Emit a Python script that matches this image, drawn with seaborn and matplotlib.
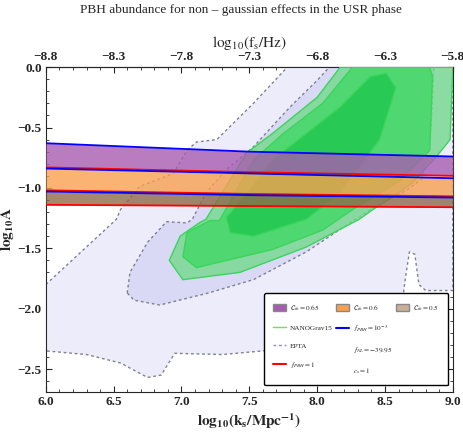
import numpy as np
import pandas as pd
import matplotlib
matplotlib.use("Agg")
import matplotlib.pyplot as plt
from matplotlib.patches import Polygon, Patch
from matplotlib.lines import Line2D
import seaborn as sns

sns.set_style("ticks")
plt.rcParams['font.family'] = ['Liberation Serif', 'DejaVu Serif']
plt.rcParams['mathtext.fontset'] = 'stix'

# band boundary lines (x = log10 k)
band_x = [6.0, 7.5, 9.0]
c065_blue = [-0.63, -0.70, -0.74]
c065_red = [-0.83, -0.87, -0.90]
c06_blue = [-0.84, -0.88, -0.92]
c06_red = [-1.02, -1.05, -1.07]
c05_blue = [-1.03, -1.06, -1.08]
c05_red = [-1.14, -1.15, -1.16]

# EPTA regions
epta_outer_x = [6.0, 6.52, 6.55, 6.69, 6.94, 7.04, 7.11, 7.26, 7.53, 7.78, 9.0, 9.0, 8.8, 8.75, 8.72, 8.68, 8.65, 8.6, 8.2, 7.85, 7.6, 7.3, 6.95, 6.85, 6.75, 6.55, 6.3, 6.0]
epta_outer_y = [-1.80, -1.26, -1.18, -0.99, -0.88, -0.69, -0.62, -0.60, -0.30, 0.0, 0.0, -1.85, -1.85, -1.80, -1.55, -1.53, -1.75, -2.20, -2.25, -2.28, -2.35, -2.38, -2.37, -2.55, -2.57, -2.45, -2.38, -2.35]
epta_inner_x = [6.60, 6.62, 6.75, 6.89, 7.04, 7.08, 7.18, 7.33, 7.53, 7.80, 8.00, 8.09, 8.86, 8.84, 8.78, 8.66, 8.51, 8.24, 7.92, 7.53, 7.20, 6.84, 6.65]
epta_inner_y = [-1.87, -1.70, -1.45, -1.28, -1.29, -1.26, -1.04, -0.85, -0.66, -0.33, -0.11, 0.0, 0.0, -0.50, -0.92, -1.02, -1.10, -1.29, -1.53, -1.76, -1.87, -1.97, -1.93]

# NANOGrav15 regions
ng3_x = [6.91, 6.99, 7.13, 7.18, 7.48, 7.67, 8.00, 8.17, 9.0, 8.98, 8.88, 8.70, 8.55, 8.41, 8.31, 7.92, 7.43, 7.01]
ng3_y = [-1.60, -1.40, -1.29, -1.26, -0.71, -0.55, -0.25, 0.0, 0.0, -0.60, -0.74, -0.96, -1.08, -1.18, -1.26, -1.49, -1.70, -1.76]
ng2_x = [7.01, 7.04, 7.21, 7.28, 7.53, 7.75, 8.04, 8.26, 8.83, 8.85, 8.83, 8.60, 8.30, 8.04, 7.67, 7.11]
ng2_y = [-1.57, -1.37, -1.27, -1.27, -0.77, -0.55, -0.30, 0.0, 0.0, -0.08, -0.69, -0.95, -1.15, -1.35, -1.51, -1.66]
ng1_x = [7.33, 7.36, 7.67, 8.17, 8.39, 8.51, 8.58, 8.46, 8.17, 7.92, 7.53, 7.36]
ng1_y = [-1.24, -1.21, -0.77, -0.33, -0.08, -0.05, -0.17, -0.60, -1.04, -1.26, -1.40, -1.37]

top_ticks = [-8.8, -8.3, -7.8, -7.3, -6.8, -6.3, -5.8]

fig = plt.figure(figsize=(4.63, 4.36), dpi=100)
ax = fig.add_axes([0.099, 0.101, 0.879, 0.745])

def poly(xs, ys, fc, ec, ls, lw, z):
    ax.add_patch(Polygon(np.column_stack([xs, ys]), closed=True, fc=fc, ec=ec, ls=ls, lw=lw, zorder=z))

poly(epta_outer_x, epta_outer_y, '#ececfb', '#808090', (0, (2, 2)), 1.0, 1)
poly(epta_inner_x, epta_inner_y, '#d9d9f6', '#808090', (0, (2, 2)), 1.0, 2)
poly(ng3_x, ng3_y, (0.45, 0.85, 0.55, 0.8), '#3ad55a', '-', 1.0, 3)
poly(ng2_x, ng2_y, '#4fd872', '#3ad55a', '-', 1.0, 4)
poly(ng1_x, ng1_y, '#28c955', '#3ad55a', '-', 1.0, 5)

ax.fill_between(band_x, c05_blue, c05_red, color='#8f6a4a', alpha=0.8, lw=0, zorder=6)
ax.fill_between(band_x, c06_blue, c06_red, color='#f9a050', alpha=0.8, lw=0, zorder=7)
ax.fill_between(band_x, c065_blue, c065_red, color='#a85cb0', alpha=0.8, lw=0, zorder=8)

df = pd.DataFrame({'x': band_x})
for ys, col in [(c065_blue, 'blue'), (c065_red, 'red'), (c06_blue, 'blue'),
                (c06_red, 'red'), (c05_blue, 'blue'), (c05_red, 'red')]:
    df['y'] = ys
    sns.lineplot(data=df, x='x', y='y', color=col, lw=1.3, ax=ax, zorder=9)

ax.set_xlim(6.0, 9.0)
ax.set_ylim(-2.69, 0.0)
ax.set_xticks([6.0, 6.5, 7.0, 7.5, 8.0, 8.5, 9.0])
ax.set_yticks([0.0, -0.5, -1.0, -1.5, -2.0, -2.5])
ax.set_xticks(np.arange(6.0, 9.01, 0.1), minor=True)
ax.set_yticks(np.arange(-2.6, 0.01, 0.1), minor=True)
ax.tick_params(direction='in', top=False, right=True, labelsize=9.5, length=4, pad=3)
ax.tick_params(which='minor', direction='in', right=True, length=2)
ax.set_xlabel(r'$\mathbf{log_{10}(k_s/Mpc^{-1})}$', fontsize=11, labelpad=2)
ax.set_ylabel(r'$\mathbf{log_{10}A}$', fontsize=11, labelpad=1)

sec = ax.secondary_xaxis('top', functions=(lambda x: x - 14.8, lambda x: x + 14.8))
sec.set_xticks(top_ticks)
sec.set_xticks(np.arange(-8.8, -5.79, 0.1), minor=True)
sec.tick_params(direction='in', labelsize=9.5, length=4, pad=3)
sec.tick_params(which='minor', direction='in', length=2)
sec.set_xlabel(r'$\mathrm{log_{10}(f_s/Hz)}$', fontsize=11, labelpad=3)
for lab in sec.get_xticklabels():
    lab.set_fontweight('bold')
fig.text(0.52, 0.978, 'PBH abundance for non – gaussian effects in the USR phase',
         ha='center', va='center', fontsize=9.5)
for lab in ax.get_xticklabels() + ax.get_yticklabels():
    lab.set_fontweight('bold')

blank = Line2D([], [], color='none')
handles = [Patch(fc='#a85cb0', ec='#888'), Line2D([], [], color='#55ee55', lw=1),
           Line2D([], [], color='#8888ee', lw=1, ls=(0, (2, 2))), Line2D([], [], color='red', lw=1.5),
           Patch(fc='#f9a050', ec='#888'), Line2D([], [], color='blue', lw=1.5), blank, blank,
           Patch(fc='#c8b098', ec='#888'), blank, blank, blank]
labels = [r'$\mathcal{C}_{th}=0.65$', 'NANOGrav15', 'EPTA', r'$f_{PBH}=1$',
          r'$\mathcal{C}_{th}=0.6$', r'$f_{PBH}=10^{-3}$', r'$f_{NL}=-39.95$', r'$c_s=1$',
          r'$\mathcal{C}_{th}=0.5$', '', '', '']
leg = ax.legend(handles, labels, ncol=3, loc='lower right', fontsize=5.2, frameon=True,
                fancybox=True, edgecolor='black', framealpha=1, handlelength=1.8,
                handleheight=1.2, labelspacing=1.5, columnspacing=0.5, borderpad=1.3,
                handletextpad=0.5, bbox_to_anchor=(0.998, 0.01))
leg.get_frame().set_linewidth(1.0)
leg.set_zorder(20)

fig.savefig('out.png', dpi=100)
